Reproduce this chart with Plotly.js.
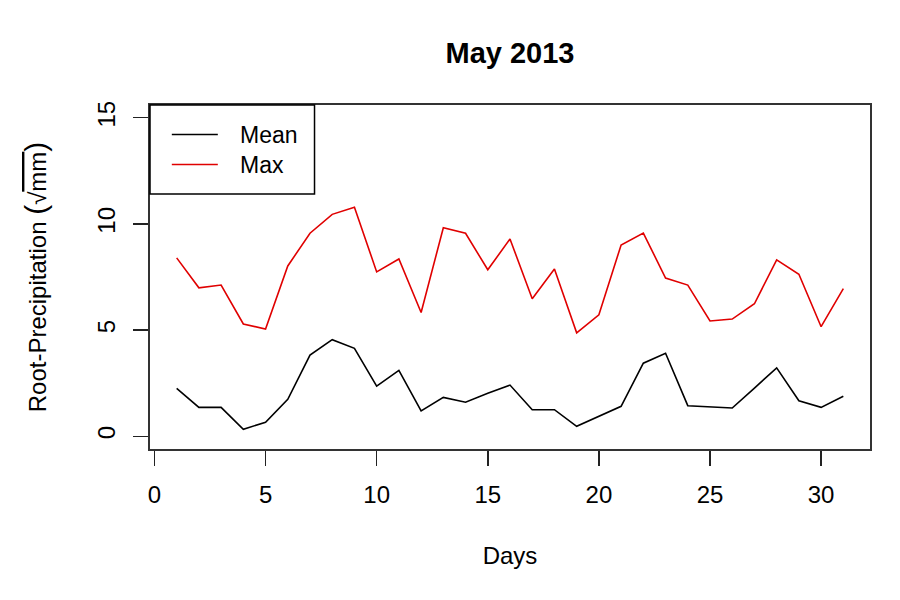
<!DOCTYPE html>
<html>
<head>
<meta charset="utf-8">
<script src="https://cdn.plot.ly/plotly-3.0.1.min.js"></script>
<style>
  html, body { margin: 0; padding: 0; background: #fff; }
  #chart { width: 900px; height: 600px; }
</style>
</head>
<body>
<div id="chart"></div>
<script>
// Daily root-precipitation for May 2013 (square root of mm)
const days = [1, 2, 3, 4, 5, 6, 7, 8, 9, 10, 11, 12, 13, 14, 15, 16,
              17, 18, 19, 20, 21, 22, 23, 24, 25, 26, 27, 28, 29, 30, 31];

const meanPrecip = [2.25, 1.36, 1.36, 0.33, 0.66, 1.74, 3.82, 4.55, 4.14, 2.36, 3.10,
                    1.19, 1.83, 1.60, 2.02, 2.41, 1.25, 1.25, 0.47, 0.94, 1.41, 3.44,
                    3.91, 1.44, 1.38, 1.33, 2.27, 3.22, 1.67, 1.36, 1.88];

const maxPrecip = [8.40, 6.99, 7.12, 5.29, 5.05, 8.02, 9.56, 10.45, 10.79, 7.74, 8.35,
                   5.83, 9.82, 9.56, 7.84, 9.29, 6.48, 7.88, 4.87, 5.72, 9.01, 9.57,
                   7.45, 7.12, 5.43, 5.52, 6.24, 8.31, 7.63, 5.16, 6.95];

const xTicks = [0, 5, 10, 15, 20, 25, 30];
const yTicks = [0, 5, 10, 15];

const seriesNames = ['Mean', 'Max'];
const seriesColors = ['#000000', '#e00000'];

const FONT = 'Liberation Sans, Arial, Helvetica, sans-serif';

const traces = [
  {
    x: days, y: meanPrecip, type: 'scatter', mode: 'lines', name: seriesNames[0],
    line: { color: seriesColors[0], width: 1.6 }, showlegend: false
  },
  {
    x: days, y: maxPrecip, type: 'scatter', mode: 'lines', name: seriesNames[1],
    line: { color: seriesColors[1], width: 1.6 }, showlegend: false
  }
];

// Legend panel in the top-left corner of the plotting region
const legendShapes = [
  { type: 'rect', xref: 'paper', yref: 'paper', x0: 0, x1: 0.2285, y0: 0.741, y1: 1,
    line: { color: '#000', width: 1.5 }, fillcolor: 'rgba(0,0,0,0)' },
  { type: 'line', xref: 'paper', yref: 'paper', x0: 0.0303, x1: 0.0942, y0: 0.9141, y1: 0.9141,
    line: { color: seriesColors[0], width: 1.6 } },
  { type: 'line', xref: 'paper', yref: 'paper', x0: 0.0303, x1: 0.0942, y0: 0.8270, y1: 0.8270,
    line: { color: seriesColors[1], width: 1.6 } }
];
const legendLabels = [
  { xref: 'paper', yref: 'paper', x: 0.1225, y: 0.9141, xanchor: 'left', yanchor: 'middle',
    text: seriesNames[0], showarrow: false, font: { family: FONT, size: 23, color: '#000' } },
  { xref: 'paper', yref: 'paper', x: 0.1225, y: 0.8270, xanchor: 'left', yanchor: 'middle',
    text: seriesNames[1], showarrow: false, font: { family: FONT, size: 23, color: '#000' } }
];

const layout = {
  width: 900,
  height: 600,
  margin: { l: 150, r: 30, t: 105, b: 151, pad: 0 },
  paper_bgcolor: '#fff',
  plot_bgcolor: '#fff',
  font: { family: FONT, size: 24, color: '#000' },
  title: {
    text: '<b>May 2013</b>',
    font: { family: FONT, size: 29, color: '#000' },
    x: 0.5, xref: 'paper',
    y: 1 - 53 / 600, yref: 'container', yanchor: 'middle'
  },
  xaxis: {
    range: [-0.2, 32.2],
    tickmode: 'array', tickvals: xTicks, ticktext: xTicks.map(String),
    ticks: 'outside', ticklen: 15, tickwidth: 1.5, tickcolor: '#222',
    showline: true, mirror: true, linecolor: '#333', linewidth: 2,
    showgrid: false, zeroline: false,
    tickfont: { family: FONT, size: 24, color: '#000' },
    ticklabelstandoff: 8,
    title: { text: 'Days', font: { family: FONT, size: 24, color: '#000' }, standoff: 40 }
  },
  yaxis: {
    range: [-0.6, 15.6],
    tickmode: 'array', tickvals: yTicks, ticktext: yTicks.map(String),
    tickangle: -90,
    ticks: 'outside', ticklen: 15, tickwidth: 1.5, tickcolor: '#222',
    showline: true, mirror: true, linecolor: '#333', linewidth: 2,
    showgrid: false, zeroline: false,
    tickfont: { family: FONT, size: 24, color: '#000' },
    ticklabelstandoff: 8,
    title: {
      text: 'Root-Precipitation <span style="font-size:30px">(</span>√<span style="text-decoration:overline">mm</span><span style="font-size:30px">)</span>',
      font: { family: FONT, size: 24, color: '#000' }, standoff: 40
    }
  },
  shapes: legendShapes,
  annotations: legendLabels,
  showlegend: false
};

Plotly.newPlot('chart', traces, layout, { displayModeBar: false, staticPlot: true });
</script>
</body>
</html>
